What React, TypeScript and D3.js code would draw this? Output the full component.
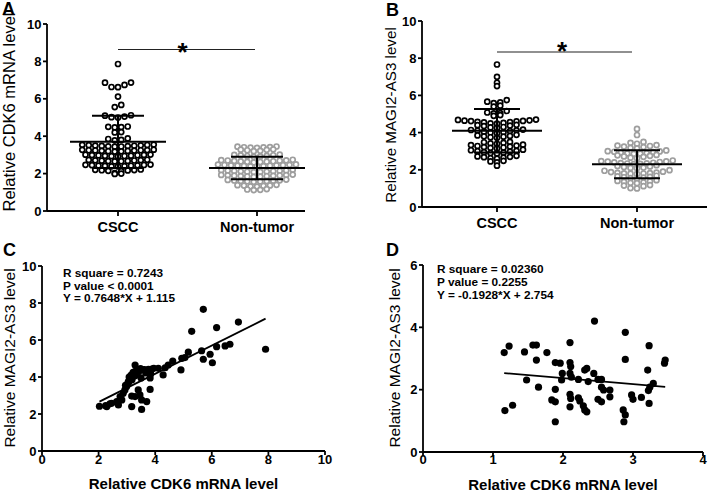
import React from 'react';
import * as d3 from 'd3';

const groups = ['CSCC', 'Non-tumor'];

// A: relative CDK6 mRNA level
const cdk6CSCC = [7.86,6.87,6.86,6.74,6.63,6.62,6.12,5.67,5.56,
  5.10,5.05,5.02,5.12,5.00,
  4.50,4.52,4.47,4.49,4.22,4.20,
  3.88,3.85,3.80,3.78,
  3.47,3.52,3.49,3.55,3.44,3.50,3.53,3.46,3.51,3.48,3.54,3.45,
  3.20,3.25,3.22,3.28,3.18,3.24,3.26,3.21,3.27,3.23,3.19,3.25,
  2.94,2.99,2.96,3.01,2.92,2.97,3.00,2.95,2.98,2.93,3.02,
  2.66,2.72,2.69,2.74,2.65,2.70,2.73,2.68,2.71,2.67,
  2.40,2.45,2.42,2.47,2.38,2.44,2.46,2.41,2.43,2.48,2.39,
  2.15,2.19,2.17,2.22,2.13,2.18,2.20,
  2.00,1.98,2.03];
const cdk6NonTumor = [3.38,3.42,3.40,3.45,3.39,3.44,3.41,
  3.22,3.28,3.25,3.30,3.20,3.27,
  2.92,2.97,2.95,3.00,2.90,2.98,3.02,2.94,
  2.62,2.68,2.65,2.71,2.60,2.66,2.74,2.63,2.69,2.72,2.64,2.70,
  2.40,2.45,2.42,2.47,2.38,2.44,2.49,2.41,2.46,2.43,2.39,2.48,2.44,
  2.10,2.15,2.12,2.18,2.08,2.14,2.20,2.11,2.16,2.13,2.09,2.17,
  1.85,1.90,1.87,1.93,1.83,1.89,1.95,1.86,1.91,1.88,1.84,1.92,
  1.58,1.63,1.60,1.66,1.56,1.62,1.68,1.59,1.64,1.61,
  1.32,1.37,1.34,1.40,1.30,1.36,1.38,
  1.15,1.12,1.17,1.13];

// B: relative MAGI2-AS3 level
const magiCSCC = [7.66,7.00,6.68,6.50,
  5.75,5.66,5.62,5.58,
  5.40,5.45,
  5.16,5.05,5.03,5.08,
  4.94,4.90,
  4.64,4.60,4.55,4.68,4.50,4.62,4.58,4.66,4.52,4.48,4.70,4.56,4.63,
  4.40,4.35,4.30,4.42,4.25,4.38,4.28,
  4.14,4.10,4.05,4.16,4.00,4.12,3.96,4.08,4.02,
  3.85,3.80,3.75,3.88,3.72,3.82,3.78,
  3.45,3.42,3.50,3.40,3.48,
  3.30,3.25,3.20,3.33,3.15,3.28,3.18,3.22,3.35,
  3.05,3.00,2.95,3.08,2.90,3.02,2.92,2.98,2.88,
  2.72,2.68,2.65,2.75,2.62,2.70,2.60,
  2.48,2.45,2.40,2.22];
const magiNonTumor = [4.20,3.87,
  3.45,3.40,3.50,
  3.22,3.28,3.18,3.30,3.25,3.15,3.33,
  2.88,2.95,2.90,3.00,2.86,2.97,3.04,2.92,2.99,2.87,
  2.70,2.75,2.65,2.78,2.62,2.72,2.80,
  2.35,2.40,2.32,2.45,2.38,2.50,2.34,2.42,2.36,2.47,2.31,2.44,
  2.10,2.15,2.20,2.08,2.25,2.12,2.18,
  1.80,1.85,1.78,1.90,1.82,1.95,1.79,1.88,1.84,1.98,1.81,
  1.58,1.62,1.55,1.68,1.60,1.52,1.65,
  1.35,1.40,1.32,1.44,1.30,1.38,1.28,
  1.15,1.00,1.02,1.18,1.12];

// C: paired CSCC samples (x = CDK6 mRNA, y = MAGI2-AS3)
const cdk6Tumor = [5.70,6.94,5.29,6.17,7.90,6.64,6.47,6.17,5.64,5.17,5.70,5.94,6.02,4.94,5.05,4.91,4.62,4.46,4.35,4.28,4.11,3.95,3.88,3.84,3.67,3.82,3.50,3.29,3.82,3.70,3.52,3.46,3.40,3.52,3.17,3.17,3.29,2.03,2.29,2.46,2.64,2.82,2.76,2.87,2.93,2.99,3.05,3.11,3.17,3.26,3.40,3.58,3.76,2.70,3.05,3.10,3.15,3.22,3.30,3.45,2.95,3.02,3.08,3.18,3.35,3.28,2.40,2.25,3.62,3.48];
const magiTumor = [7.66,6.97,6.47,6.67,5.50,5.77,5.68,5.64,5.42,5.34,4.96,5.23,4.77,5.01,5.05,4.38,4.86,4.65,4.50,4.11,4.47,4.47,4.43,4.17,4.22,3.95,3.95,4.65,3.33,2.67,2.76,3.03,3.30,2.25,2.40,2.97,2.94,2.42,2.40,2.58,2.67,2.76,2.94,3.12,3.30,3.48,3.66,3.84,4.02,4.20,4.29,4.38,4.42,2.49,3.75,3.90,4.10,4.25,4.30,4.35,3.55,3.62,4.00,3.85,4.20,4.05,2.55,2.45,4.40,4.45];

// D: paired non-tumor samples (x = CDK6 mRNA, y = MAGI2-AS3)
const cdk6Normal = [2.45,2.89,3.23,2.89,3.46,3.45,3.21,1.23,1.16,1.45,1.57,1.62,1.77,1.62,2.10,1.89,1.96,2.10,2.11,2.31,2.34,1.99,2.10,2.12,1.98,2.22,2.44,2.50,2.55,2.36,1.48,1.65,1.89,2.55,2.67,2.67,2.58,2.98,3.00,3.12,3.22,3.24,3.29,3.23,2.10,2.11,2.10,2.22,2.24,2.29,2.31,2.34,2.50,2.55,1.84,1.89,1.89,1.28,1.17,2.86,2.89,2.87];
const magiNormal = [4.20,3.84,3.41,2.97,2.95,2.85,2.63,3.40,3.19,3.21,3.43,3.43,3.19,2.95,3.51,2.87,2.85,2.87,2.74,2.63,2.68,2.52,2.52,2.40,2.31,2.33,2.52,2.33,2.33,2.26,2.31,2.08,2.01,2.08,1.99,1.77,1.99,1.83,1.69,1.75,1.97,2.08,2.20,1.56,1.85,1.72,1.45,1.74,1.64,1.48,1.35,1.29,1.69,1.61,1.67,1.61,0.97,1.50,1.33,1.35,1.19,0.97];

// mean and SD shown by the error bars [CSCC, Non-tumor]
const meanA = [3.7, 2.3];
const sdA = [1.4, 0.6];
const meanB = [4.1, 2.3];
const sdB = [1.17, 0.75];

const ticks10 = [0, 2, 4, 6, 8, 10];
const xTicksD = [0, 1, 2, 3, 4];
const yTicksD = [0, 2, 4, 6];

const fitC = [0.7648, 1.115];
const fitD = [-0.1928, 2.754];
const statsC = ['R square = 0.7243', 'P value < 0.0001', 'Y = 0.7648*X + 1.115'];
const statsD = ['R square = 0.02360', 'P value = 0.2255', 'Y = -0.1928*X + 2.754'];

const FONT = '"Liberation Sans", Arial, Helvetica, sans-serif';
const GRAY = '#9e9e9e';

type Pt = { v: number; py: number; px: number };

// Prism-like column scatter: values binned into rows, each row spread symmetrically
function swarm(values: number[], y: (v: number) => number, cx: number, rowStep: number, step: number): Pt[] {
  const pts = values.map((v) => ({ v, py: y(v), px: cx }));
  const bins = d3.groups(pts, (p) => Math.round(p.v / rowStep));
  const res: Pt[] = [];
  bins.forEach(([, arr]) => {
    arr.sort((a, b) => b.py - a.py);
    const n = arr.length;
    const slots = d3.range(n).map((k) => (k - (n - 1) / 2) * step);
    slots.sort((a, b) => Math.abs(a) - Math.abs(b) || a - b);
    arr.forEach((p, k) => res.push({ ...p, px: cx + slots[k] }));
  });
  return res;
}

type DotProps = {
  letter: string; letterX: number; letterY: number;
  yBottom: number; yTop: number; axisX: number; axisRight: number;
  cats: [number, number];
  tumor: number[]; normal: number[];
  mean: number[]; sd: number[];
  yLabel: string; yLabelX: number; yLabelY: number; yLabelSize: number;
  sigY: number; starY: number; sigEnd: number;
  meanHalf: number; capHalf: number; catLabelY: number;
};

function DotPanel(p: DotProps) {
  const y = d3.scaleLinear().domain([0, 10]).range([p.yBottom, p.yTop]);
  const x = d3.scalePoint<string>().domain(groups).range(p.cats);
  const cx0 = x(groups[0]) as number;
  const cx1 = x(groups[1]) as number;
  const tDots = swarm(p.tumor, y, cx0, 0.27, 6.5);
  const nDots = swarm(p.normal, y, cx1, 0.27, 6.5);
  return (
    <g>
      <text x={p.letterX} y={p.letterY} fontSize={18} fontWeight="bold" fontFamily={FONT}>{p.letter}</text>
      <line x1={p.axisX} x2={p.axisX} y1={y(10)} y2={y(0)} stroke="#000" strokeWidth={1.8} />
      <line x1={p.axisX} x2={p.axisRight} y1={y(0)} y2={y(0)} stroke="#000" strokeWidth={1.8} />
      {ticks10.map((t) => (
        <g key={t}>
          <line x1={p.axisX - 4} x2={p.axisX} y1={y(t)} y2={y(t)} stroke="#000" strokeWidth={1.8} />
          <text x={p.axisX - 5.5} y={y(t)} dy="0.36em" textAnchor="end" fontSize={13} fontWeight="bold" fontFamily={FONT}>{t}</text>
        </g>
      ))}
      {groups.map((g) => (
        <g key={g}>
          <line x1={x(g)} x2={x(g)} y1={y(0)} y2={y(0) + 5} stroke="#000" strokeWidth={1.8} />
          <text x={x(g)} y={p.catLabelY} textAnchor="middle" fontSize={14.5} fontWeight="bold" fontFamily={FONT}>{g}</text>
        </g>
      ))}
      <text transform={`translate(${p.yLabelX},${p.yLabelY}) rotate(-90)`} textAnchor="middle" fontSize={p.yLabelSize} fontFamily={FONT}>{p.yLabel}</text>
      {nDots.map((d, i) => (
        <circle key={'n' + i} cx={d.px} cy={d.py} r={2.5} fill="#fff" stroke={GRAY} strokeWidth={1.7} />
      ))}
      {tDots.map((d, i) => (
        <circle key={'t' + i} cx={d.px} cy={d.py} r={2.5} fill="#fff" stroke="#000" strokeWidth={1.7} />
      ))}
      {groups.map((g, i) => {
        const c = x(g) as number;
        const m = p.mean[i];
        const s = p.sd[i];
        return (
          <g key={'e' + g} stroke="#000" strokeWidth={2}>
            <line x1={c - p.meanHalf} x2={c + p.meanHalf} y1={y(m)} y2={y(m)} />
            <line x1={c} x2={c} y1={y(m - s)} y2={y(m + s)} />
            <line x1={c - p.capHalf} x2={c + p.capHalf} y1={y(m + s)} y2={y(m + s)} />
            <line x1={c - p.capHalf} x2={c + p.capHalf} y1={y(m - s)} y2={y(m - s)} />
          </g>
        );
      })}
      <line x1={cx0} x2={cx1 - p.sigEnd} y1={y(p.sigY)} y2={y(p.sigY)} stroke="#222" strokeWidth={1.1} />
      <text x={(cx0 + cx1) / 2 - 5} y={y(p.starY)} textAnchor="middle" fontSize={26} fontWeight="bold" fontFamily={FONT}>*</text>
    </g>
  );
}

type ScatterProps = {
  letter: string; letterX: number; letterY: number;
  xDomain: [number, number]; xRange: [number, number];
  yDomain: [number, number]; yRange: [number, number];
  xTicks: number[]; yTicks: number[];
  xs: number[]; ys: number[]; fit: number[];
  stats: string[]; statsX: number; statsY: number; statsStep: number;
  yLabel: string; yLabelX: number; yLabelY: number; yLabelSize: number;
  xLabel: string; xLabelY: number; xLabelSize: number;
  tickLabelY: number;
};

function ScatterPanel(p: ScatterProps) {
  const x = d3.scaleLinear().domain(p.xDomain).range(p.xRange);
  const y = d3.scaleLinear().domain(p.yDomain).range(p.yRange);
  const [x0, x1] = d3.extent(p.xs) as [number, number];
  const line = d3.line<number>().x((v) => x(v)).y((v) => y(p.fit[0] * v + p.fit[1]));
  const ax = p.xRange[0];
  const ay = p.yRange[0];
  return (
    <g>
      <text x={p.letterX} y={p.letterY} fontSize={18} fontWeight="bold" fontFamily={FONT}>{p.letter}</text>
      <line x1={ax} x2={ax} y1={p.yRange[1]} y2={ay} stroke="#000" strokeWidth={1.8} />
      <line x1={ax} x2={p.xRange[1]} y1={ay} y2={ay} stroke="#000" strokeWidth={1.8} />
      {p.yTicks.map((t) => (
        <g key={'y' + t}>
          <line x1={ax - 4} x2={ax} y1={y(t)} y2={y(t)} stroke="#000" strokeWidth={1.8} />
          <text x={ax - 5.5} y={y(t)} dy="0.36em" textAnchor="end" fontSize={13} fontWeight="bold" fontFamily={FONT}>{t}</text>
        </g>
      ))}
      {p.xTicks.map((t) => (
        <g key={'x' + t}>
          <line x1={x(t)} x2={x(t)} y1={ay} y2={ay + 4} stroke="#000" strokeWidth={1.8} />
          <text x={x(t)} y={p.tickLabelY} textAnchor="middle" fontSize={13} fontWeight="bold" fontFamily={FONT}>{t}</text>
        </g>
      ))}
      <text transform={`translate(${p.yLabelX},${p.yLabelY}) rotate(-90)`} textAnchor="middle" fontSize={p.yLabelSize} fontFamily={FONT}>{p.yLabel}</text>
      <text x={(p.xRange[0] + p.xRange[1]) / 2} y={p.xLabelY} textAnchor="middle" fontSize={p.xLabelSize} fontWeight="bold" fontFamily={FONT}>{p.xLabel}</text>
      {p.xs.map((v, i) => (
        <circle key={i} cx={x(v)} cy={y(p.ys[i])} r={3.6} fill="#000" />
      ))}
      <path d={line([x0, x1]) || ''} stroke="#000" strokeWidth={1.8} fill="none" />
      {p.stats.map((s, i) => (
        <text key={s} x={p.statsX} y={p.statsY + i * p.statsStep} fontSize={11.8} fontWeight="bold" fontFamily={FONT}>{s}</text>
      ))}
    </g>
  );
}

export default function App() {
  return (
    <svg width={709} height={495} style={{ position: 'absolute', left: 0, top: 0, background: '#fff' }}>
      <rect x={0} y={0} width={709} height={495} fill="#fff" />
      <DotPanel
        letter="A" letterX={2} letterY={15}
        yBottom={211} yTop={24} axisX={47} axisRight={305}
        cats={[118, 257]}
        tumor={cdk6CSCC} normal={cdk6NonTumor}
        mean={meanA} sd={sdA}
        yLabel="Relative CDK6 mRNA level" yLabelX={15} yLabelY={112} yLabelSize={16.5}
        sigY={8.64} starY={8.0} sigEnd={2}
        meanHalf={48} capHalf={26} catLabelY={232}
      />
      <DotPanel
        letter="B" letterX={386} letterY={16}
        yBottom={207} yTop={21} axisX={422} axisRight={707}
        cats={[497, 637]}
        tumor={magiCSCC} normal={magiNonTumor}
        mean={meanB} sd={sdB}
        yLabel="Relative MAGI2-AS3 level" yLabelX={396} yLabelY={115} yLabelSize={15.2}
        sigY={8.33} starY={7.9} sigEnd={5}
        meanHalf={45} capHalf={23} catLabelY={228}
      />
      <ScatterPanel
        letter="C" letterX={3} letterY={256}
        xDomain={[0, 10]} xRange={[42, 325]}
        yDomain={[0, 10]} yRange={[451, 266]}
        xTicks={ticks10} yTicks={ticks10}
        xs={cdk6Tumor} ys={magiTumor} fit={fitC}
        stats={statsC} statsX={63} statsY={277} statsStep={12.5}
        yLabel="Relative MAGI2-AS3 level" yLabelX={15} yLabelY={358} yLabelSize={15.5}
        xLabel="Relative CDK6 mRNA level" xLabelY={489} xLabelSize={15}
        tickLabelY={464}
      />
      <ScatterPanel
        letter="D" letterX={386} letterY={256}
        xDomain={[0, 4]} xRange={[423, 703]}
        yDomain={[0, 6]} yRange={[452, 265]}
        xTicks={xTicksD} yTicks={yTicksD}
        xs={cdk6Normal} ys={magiNormal} fit={fitD}
        stats={statsD} statsX={437} statsY={273} statsStep={13}
        yLabel="Relative MAGI2-AS3 level" yLabelX={400} yLabelY={358} yLabelSize={15.5}
        xLabel="Relative CDK6 mRNA level" xLabelY={490} xLabelSize={15}
        tickLabelY={464}
      />
    </svg>
  );
}
